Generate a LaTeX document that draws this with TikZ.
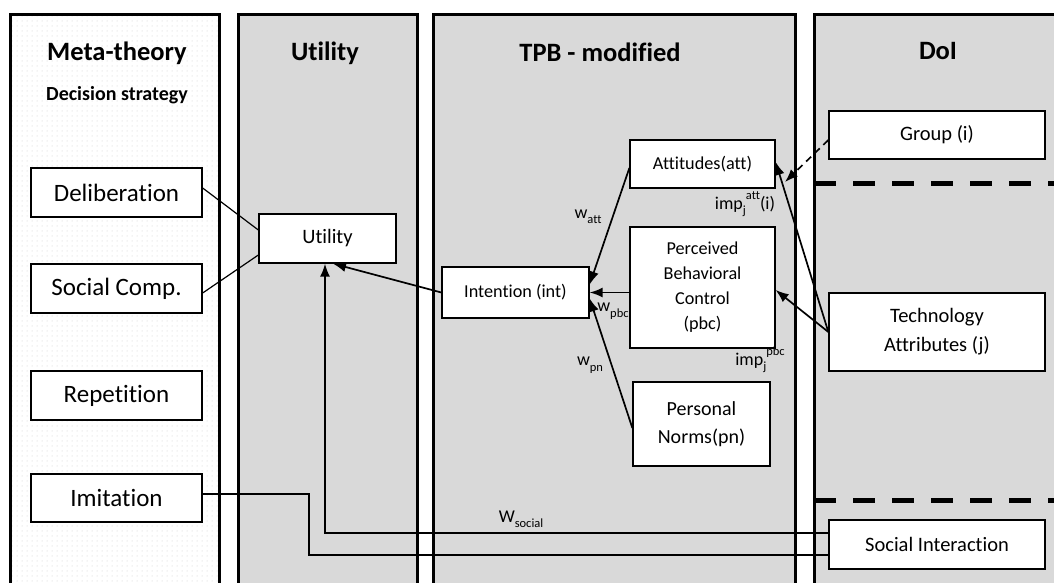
\documentclass[tikz,border=0pt]{standalone}
\usepackage{fontspec}
\setmainfont{Carlito}[Ligatures=NoCommon]
\usetikzlibrary{arrows.meta,patterns.meta,calc}
\definecolor{panelgray}{RGB}{217,217,217}
\pgfdeclarepattern{
  name=sparsedots,
  type=uncolored,
  bottom left={\pgfpoint{0pt}{0pt}},
  top right={\pgfpoint{5pt}{5pt}},
  tile size={\pgfpoint{5pt}{5pt}},
  code={\pgfpathcircle{\pgfpoint{2.5pt}{2.5pt}}{0.6pt}\pgfusepath{fill}}
}
\newcommand\lsub[1]{\raisebox{-0.3em}{\fontsize{12.5}{12.5}\selectfont #1}}
\newcommand\lsup[1]{\raisebox{0.55em}{\fontsize{12.5}{12.5}\selectfont #1}}
\begin{document}
\begin{tikzpicture}[x=1pt,y=-1pt,
  box/.style={draw, line width=1.3pt, fill=white, inner sep=0pt, align=center},
  big/.style={font={\fontsize{25}{29}\selectfont}},
  mid/.style={font={\fontsize{20.5}{29}\selectfont}},
  small/.style={font={\fontsize{18.2}{25}\selectfont}},
  title/.style={font={\bfseries\fontsize{26.5}{30}\selectfont}},
  lab/.style={font={\fontsize{18}{20}\selectfont}, inner sep=0pt},
  panelborder/.style={line width=3pt, line join=miter},
  conn/.style={line width=1.2pt},
  arr/.style={line width=1.7pt, -{Latex[length=13pt,width=10pt]}},
  dline/.style={line width=5pt, dash pattern=on 22pt off 17pt}
]
\useasboundingbox (0,0) rectangle (1054,583);
\fill[white] (0,0) rectangle (1054,583);
% panels
\fill[white] (10.5,15) rectangle (219.5,583);
\fill[pattern=sparsedots, pattern color=gray!40] (10.5,15) rectangle (219.5,583);
\fill[panelgray] (238,15) rectangle (417,583);
\fill[panelgray] (433,15) rectangle (795,583);
\fill[panelgray] (814,15) rectangle (1054,583);
\draw[panelborder] (10.5,583) -- (10.5,15) -- (219.5,15) -- (219.5,583);
\draw[panelborder] (238,583) -- (238,15) -- (417,15) -- (417,583);
\draw[panelborder] (433,583) -- (433,15) -- (795,15) -- (795,583);
\draw[panelborder] (814,583) -- (814,15) -- (1060,15);
\draw[dline] (814,183) -- (1054,183);
\draw[dline] (814,500) -- (1054,500);
% titles
\node[title] (tmeta) at (117,53) {Meta-theory};
\node[font={\bfseries\fontsize{20}{23}\selectfont}] (tdec) at (117,95) {Decision strategy};
\node[title] (tutil) at (325,53) {Utility};
\node[title] (ttpb) at (600,52) {TPB - modified};
\node[title] (tdoi) at (938,51) {DoI};
% left boxes
\node[box, big, minimum width=171pt, minimum height=49pt] (delib) at (116.5,192.5) {Deliberation};
\node[box, big, minimum width=171pt, minimum height=49pt] (social) at (116.5,288.5) {Social Comp.};
\node[box, big, minimum width=171pt, minimum height=49pt] (rep) at (116.5,395.5) {Repetition};
\node[box, big, minimum width=171pt, minimum height=48pt] (imit) at (116.5,498) {Imitation};
% utility
\node[box, mid, minimum width=137pt, minimum height=49pt] (util) at (327.5,238.5) {Utility};
% TPB
\node[box, small, minimum width=147pt, minimum height=51pt] (intent) at (515.5,292.5) {Intention (int)};
\node[box, small, minimum width=145pt, minimum height=48pt] (att) at (702.5,164) {Attitudes(att)};
\node[box, small, minimum width=145pt, minimum height=121pt] (pbc) at (702.5,287.5) {Perceived\\Behavioral\\Control\\(pbc)};
\node[box, font={\fontsize{20}{28}\selectfont}, minimum width=137pt, minimum height=84pt] (pn) at (701.5,424) {Personal\\Norms(pn)};
% DoI
\node[box, mid, minimum width=216pt, minimum height=48pt] (group) at (937,135) {Group (i)};
\node[box, mid, minimum width=216pt, minimum height=78pt] (tech) at (937,332) {Technology\\Attributes (j)};
\node[box, mid, minimum width=216pt, minimum height=49pt] (sint) at (937,544.5) {Social Interaction};
% coordinates
\coordinate (gtip) at (785,182);
\coordinate (imbend) at (309,494);
% connectors
\draw[conn] ([yshift=4.5pt]delib.east) -- ([yshift=8.5pt]util.west);
\draw[conn] ([yshift=-4.5pt]social.east) -- ([yshift=-16.5pt]util.west);
\draw[arr] (intent.west) -- ([xshift=5.5pt]util.south);
\draw[arr] ([yshift=11.5pt]sint.west) -| ([xshift=-2.5pt]util.south);
\draw[conn] ([yshift=4pt]imit.east) -- (imbend) |- ([yshift=-10.5pt]sint.west);
\draw[arr] ([yshift=-4pt]att.west) -- ([yshift=8pt]intent.east);
\draw[arr] (pbc.west |- intent.east) -- (intent.east);
\draw[arr] ([yshift=-4pt]pn.west) -- ([yshift=-6pt]intent.east);
\draw[arr] (tech.west) -- ([yshift=2pt]att.east);
\draw[arr] (tech.west) -- ([yshift=-2.5pt]pbc.east);
\draw[line width=1.7pt, dash pattern=on 7pt off 5pt, -{Latex[length=13pt,width=10pt]}] ([yshift=-5pt]group.west) -- (gtip);
% labels
\node[lab] (watt) at (588,217) {w\lsub{att}};
\node[lab] (wpbc) at (613,311) {w\lsub{pbc}};
\node[lab] (wpn) at (590,365) {w\lsub{pn}};
\node[lab] (impatt) at (745,204) {imp\lsub{j}\lsup{att}(i)};
\node[lab] (imppbc) at (760,360) {imp\lsub{j}\lsup{pbc}};
\node[lab] (wsoc) at (521,519) {W\lsub{social}};
\end{tikzpicture}
\end{document}
